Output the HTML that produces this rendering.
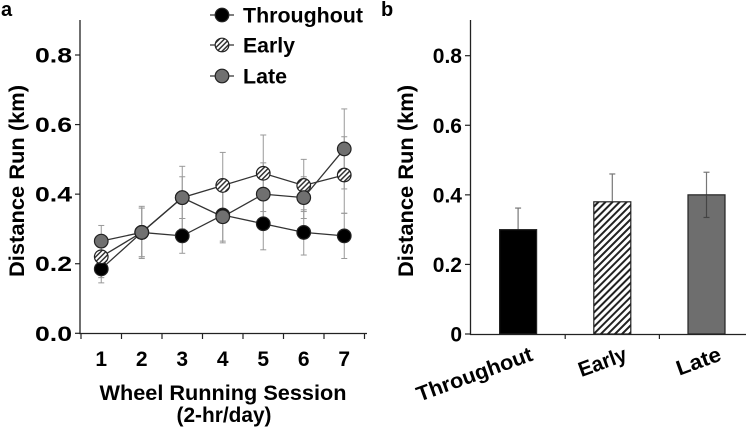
<!DOCTYPE html>
<html><head><meta charset="utf-8"><style>
html,body{margin:0;padding:0;background:#fff}
svg{display:block;font-family:"Liberation Sans",Arial,sans-serif;font-weight:bold}
</style></head><body>
<svg id="c" width="755" height="428" viewBox="0 0 755 428" xmlns="http://www.w3.org/2000/svg">
<defs>
<pattern id="hatch" patternUnits="userSpaceOnUse" width="5" height="5" patternTransform="rotate(45)">
<rect width="5" height="5" fill="#fff"/><rect width="2" height="5" fill="#222"/>
</pattern>
<pattern id="hatchS" patternUnits="userSpaceOnUse" width="3.5" height="3.5" patternTransform="rotate(45)">
<rect width="3.5" height="3.5" fill="#fff"/><rect width="1.5" height="3.5" fill="#333"/>
</pattern>
</defs>
<g id="a"></g>
<g id="b"></g>
</svg>
<script>
const sessions=["1","2","3","4","5","6","7"];
const throughoutVals=[0.185,0.29,0.28,0.34,0.315,0.29,0.28];
const throughoutErr=[0.04,0.07,0.05,0.075,0.075,0.065,0.065];
const earlyVals=[0.22,0.29,0.39,0.425,0.46,0.425,0.455];
const earlyErr=[0.06,0.07,0.06,0.095,0.11,0.075,0.11];
const lateVals=[0.265,0.29,0.39,0.335,0.40,0.39,0.53];
const lateErr=[0.045,0.075,0.09,0.075,0.09,0.06,0.115];
const yTicksA=["0.0","0.2","0.4","0.6","0.8"];
const barCats=["Throughout","Early","Late"];
const barVals=[0.30,0.38,0.40];
const barErr=[0.062,0.08,0.065];
const yTicksB=["0","0.2","0.4","0.6","0.8"];

const NS="http://www.w3.org/2000/svg";
function mk(p,t,a,txt){const e=document.createElementNS(NS,t);for(const k in a)e.setAttribute(k,a[k]);if(txt!==undefined)e.textContent=txt;p.appendChild(e);return e;}
const FS=21;

// Panel A
const A=document.getElementById('a');
const ay=v=>333.3-v*(333.3-55)/0.8;
const ax0=81,ax1=364.5,aw=(ax1-ax0)/sessions.length;
const axp=i=>ax0+aw*(i+0.5);
let e;
e=mk(A,'text',{x:1,y:16,'font-size':20},'a');


e=mk(A,'line',{x1:80,y1:20,x2:80,y2:334,stroke:'#222','stroke-width':1.3});


e=mk(A,'line',{x1:79,y1:333.5,x2:367,y2:333.5,stroke:'#222','stroke-width':1.3});


yTicksA.forEach((t,i)=>{const v=parseFloat(t);const y=ay(v);
mk(A,'line',{x1:75,y1:y,x2:80,y2:y,stroke:'#222','stroke-width':1.2});
e=mk(A,'text',{x:72,y:y+7.5,'font-size':FS,'text-anchor':'end',textLength:37,lengthAdjust:'spacingAndGlyphs'},t);

});
for(let i=0;i<=sessions.length;i++){const x=ax0+aw*i;mk(A,'line',{x1:x,y1:333,x2:x,y2:339,stroke:'#222','stroke-width':1.2});}
sessions.forEach((s,i)=>{e=mk(A,'text',{x:axp(i),y:366,'font-size':FS,'text-anchor':'middle'},s);

});
e=mk(A,'text',{x:223,y:400,'font-size':FS,'text-anchor':'middle',textLength:247,lengthAdjust:'spacingAndGlyphs'},'Wheel Running Session');


e=mk(A,'text',{x:224,y:422,'font-size':FS,'text-anchor':'middle',textLength:95,lengthAdjust:'spacingAndGlyphs'},'(2-hr/day)');


e=mk(A,'text',{x:0,y:0,'font-size':FS,'text-anchor':'middle',textLength:192,lengthAdjust:'spacingAndGlyphs',transform:'translate(24,181) rotate(-90)'},'Distance Run (km)');



const series=[
 {name:'throughout',vals:throughoutVals,err:throughoutErr,fill:'#000'},
 {name:'early',vals:earlyVals,err:earlyErr,fill:'url(#hatchS)'},
 {name:'late',vals:lateVals,err:lateErr,fill:'#707070'}];
series.forEach(s=>{s.vals.forEach((v,i)=>{const x=axp(i);
 mk(A,'line',{x1:x,y1:ay(v-s.err[i]),x2:x,y2:ay(v+s.err[i]),stroke:'#999','stroke-width':1});
 mk(A,'line',{x1:x-3,y1:ay(v-s.err[i]),x2:x+3,y2:ay(v-s.err[i]),stroke:'#999','stroke-width':1});
 mk(A,'line',{x1:x-3,y1:ay(v+s.err[i]),x2:x+3,y2:ay(v+s.err[i]),stroke:'#999','stroke-width':1});});});
series.forEach(s=>{const pts=s.vals.map((v,i)=>axp(i)+','+ay(v)).join(' ');
 e=mk(A,'polyline',{points:pts,fill:'none',stroke:'#333','stroke-width':1.3});
 
 });
series.forEach(s=>{s.vals.forEach((v,i)=>{
 e=mk(A,'circle',{cx:axp(i),cy:ay(v),r:6.8,fill:s.fill,stroke:'#222','stroke-width':1.2});
 
 });});
// legend
[['Throughout','#000',15,120],['Early','url(#hatchS)',45,52],['Late','#707070',76,44]].forEach(l=>{
 const g=mk(A,'g',{});
 
 
 mk(g,'line',{x1:210,y1:l[2],x2:234,y2:l[2],stroke:'#333','stroke-width':1.3});
 mk(g,'circle',{cx:222,cy:l[2],r:6.8,fill:l[1],stroke:'#222','stroke-width':1.2});
 mk(g,'text',{x:243,y:l[2]+7.5,'font-size':FS,textLength:l[3],lengthAdjust:'spacingAndGlyphs'},l[0]);});

// Panel B
const B=document.getElementById('b');
const by=v=>334-v*(334-55.7)/0.8;
const bx0=471,bw=94.2;
const bxp=i=>bx0+bw*(i+0.5);
e=mk(B,'text',{x:381,y:16,'font-size':20},'b');


e=mk(B,'line',{x1:470.5,y1:20,x2:470.5,y2:335,stroke:'#222','stroke-width':1.3});


e=mk(B,'line',{x1:470,y1:334.5,x2:746,y2:334.5,stroke:'#222','stroke-width':1.3});


yTicksB.forEach(t=>{const y=by(parseFloat(t));
 mk(B,'line',{x1:465,y1:y,x2:470.5,y2:y,stroke:'#222','stroke-width':1.2});
 e=mk(B,'text',{x:462,y:y+7.5,'font-size':FS,'text-anchor':'end'},t);
 
 });
for(let i=1;i<barCats.length;i++){const x=bx0+bw*i;mk(B,'line',{x1:x,y1:334,x2:x,y2:339,stroke:'#222','stroke-width':1.2});}
e=mk(B,'text',{x:0,y:0,'font-size':FS,'text-anchor':'middle',textLength:192,lengthAdjust:'spacingAndGlyphs',transform:'translate(413,181) rotate(-90)'},'Distance Run (km)');


const barFills=['#000','url(#hatch)','#6e6e6e'];
const labLen=[122,50,46];
barCats.forEach((c,i)=>{const x=bxp(i),v=barVals[i],er=barErr[i];
 mk(B,'line',{x1:x,y1:by(v-(i==2?er:0)),x2:x,y2:by(v+er),stroke:'#777','stroke-width':1.2});
 mk(B,'line',{x1:x-3,y1:by(v+er),x2:x+3,y2:by(v+er),stroke:'#777','stroke-width':1.2});
 e=mk(B,'rect',{x:x-18.5,y:by(v),width:37,height:by(0)-by(v),fill:barFills[i],stroke:'#222','stroke-width':1.2});
 
 
 if(i==2){mk(B,'line',{x1:x,y1:by(v),x2:x,y2:by(v-er),stroke:'#444','stroke-width':1.2});mk(B,'line',{x1:x-3,y1:by(v-er),x2:x+3,y2:by(v-er),stroke:'#444','stroke-width':1.2});}
 e=mk(B,'text',{x:0,y:0,'font-size':FS,'text-anchor':'end',textLength:labLen[i],lengthAdjust:'spacingAndGlyphs',transform:'translate('+(x+16)+',360) rotate(-20)'},c);
 
 });
</script>
</body></html>
